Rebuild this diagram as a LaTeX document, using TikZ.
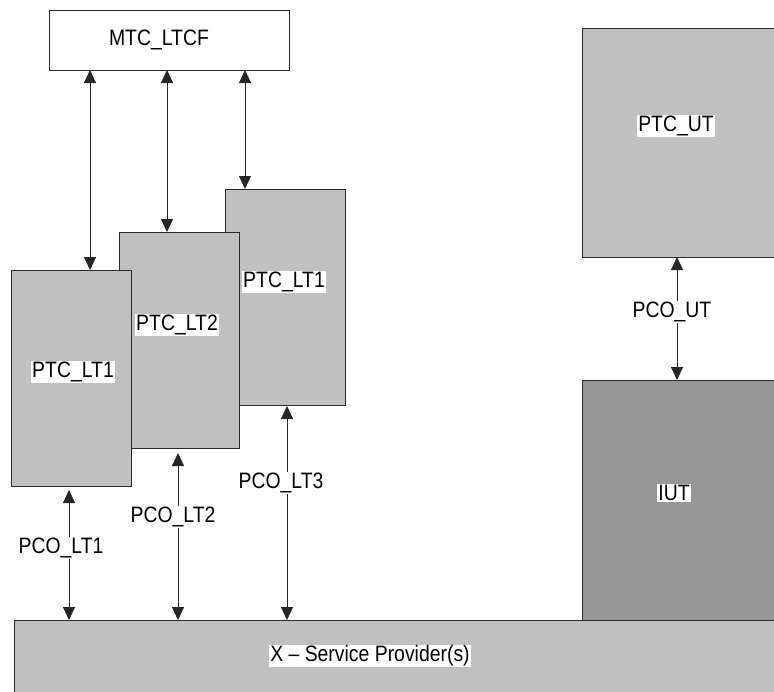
\documentclass[tikz,border=0pt]{standalone}
\usepackage{fontspec}
\usepackage{graphicx}
\setmainfont{Liberation Sans}
\usetikzlibrary{arrows.meta,calc}
\definecolor{boxgray}{HTML}{C0C0C0}
\definecolor{iutgray}{HTML}{969696}
\definecolor{edge}{HTML}{2A2A2A}
\newcommand{\stx}[1]{\scalebox{1}[1.15]{#1}}
\begin{document}
\begin{tikzpicture}[x=1pt,y=-1pt,
  box/.style={draw=edge, line width=0.9pt, fill=boxgray, anchor=north west, inner sep=0pt, outer sep=0pt},
  lbl/.style={fill=white, inner xsep=1.5pt, inner ysep=1pt, text=black, font=\fontsize{19.4}{22}\selectfont},
  bi/.style={{Triangle[length=13pt,width=12pt]}-{Triangle[length=13pt,width=12pt]}, line width=0.9pt, draw=black!85}]
\useasboundingbox (0,0) rectangle (774,691);
\begin{scope}
\clip (0,0) rectangle (774,691);
% boxes
\node[box, fill=white, minimum width=240, minimum height=60] (mtc) at (49,10) {};
\node[box, minimum width=120, minimum height=216] (ptc3) at (225,189) {};
\node[box, minimum width=120, minimum height=216] (ptc2) at (119,232) {};
\node[box, minimum width=120, minimum height=216] (ptc1) at (11,270) {};
\node[box, minimum width=210, minimum height=229] (ptcut) at (582,28) {};
\node[box, fill=iutgray, minimum width=210, minimum height=240] (iut) at (582,380) {};
\node[box, minimum width=780, minimum height=90] (xsp) at (14,620) {};
% arrow positions
\coordinate (c1) at (90,0);
\coordinate (c2) at (167,0);
\coordinate (c3) at (245,0);
\coordinate (d1) at (69,0);
\coordinate (d2) at (178,0);
\coordinate (d3) at (287,0);
\coordinate (du) at (677,0);
% connectors MTC -> PTCs
\draw[bi] (c1 |- mtc.south) -- (c1 |- ptc1.north);
\draw[bi] (c2 |- mtc.south) -- (c2 |- ptc2.north);
\draw[bi] (c3 |- mtc.south) -- (c3 |- ptc3.north);
% connectors PTCs -> service provider
\draw[bi, shorten <=4pt] (d1 |- ptc1.south) -- (d1 |- xsp.north);
\draw[bi, shorten <=5pt] (d2 |- ptc2.south) -- (d2 |- xsp.north);
\draw[bi, shorten <=1pt] (d3 |- ptc3.south) -- (d3 |- xsp.north);
\draw[bi] (du |- ptcut.south) -- (du |- iut.north);
% labels
\node[lbl, fill=none] (lmtc) at (159,40) {\stx{MTC\_LTCF}};
\node[lbl] (lptc1) at (73,372) {\stx{PTC\_LT1}};
\node[lbl] (lptc2) at (177,325) {\stx{PTC\_LT2}};
\node[lbl] (lptc3) at (284,282) {\stx{PTC\_LT1}};
\node[lbl] (lptcut) at (676,126) {\stx{PTC\_UT}};
\node[lbl] (liut) at (674,493) {\stx{IUT}};
\node[lbl] (lpco1) at (61,548) {\stx{PCO\_LT1}};
\node[lbl] (lpco2) at (173,517) {\stx{PCO\_LT2}};
\node[lbl] (lpco3) at (281,483) {\stx{PCO\_LT3}};
\node[lbl] (lpcout) at (672,312) {\stx{PCO\_UT}};
\node[lbl] (lxsp) at (370,656) {\stx{X -- Service Provider(s)}};
\end{scope}
\end{tikzpicture}
\end{document}
